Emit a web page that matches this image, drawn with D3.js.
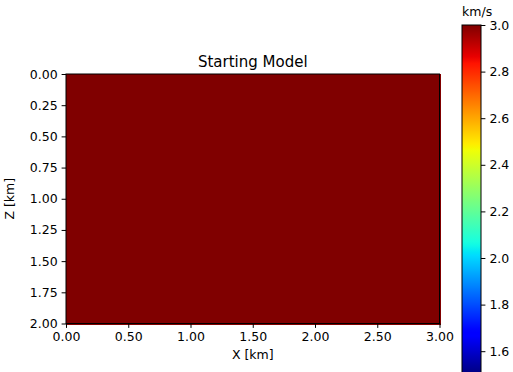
<!DOCTYPE html>
<html>
<head>
<meta charset="utf-8">
<script src="https://cdn.jsdelivr.net/npm/d3@7"></script>
<style>
  body { margin: 0; background: #fff; }
  svg text { font-family: "DejaVu Sans", sans-serif; fill: #000; }
  .axis path, .axis line { stroke: #000; stroke-width: 1; }
  .axis text { font-size: 12.5px; }
</style>
</head>
<body>
<svg class="chart"></svg>
<script>
// velocity model (km/s), rows = depth, cols = distance
var velocity = [
  [3.0, 3.0, 3.0, 3.0, 3.0, 3.0],
  [3.0, 3.0, 3.0, 3.0, 3.0, 3.0],
  [3.0, 3.0, 3.0, 3.0, 3.0, 3.0],
  [3.0, 3.0, 3.0, 3.0, 3.0, 3.0]
];
var xExtent = [0, 3];
var zExtent = [0, 2];
var xTicks = [0, 0.5, 1.0, 1.5, 2.0, 2.5, 3.0];
var zTicks = [0, 0.25, 0.5, 0.75, 1.0, 1.25, 1.5, 1.75, 2.0];
var cbarDomain = [1.5, 3.0];
var cbarTicks = [1.6, 1.8, 2.0, 2.2, 2.4, 2.6, 2.8, 3.0];

var W = 513, H = 372;
var plot = { left: 66, top: 74, right: 439.5, bottom: 323.5 };
var cbar = { left: 462, right: 481, top: 25 };

var svg = d3.select(".chart")
  .attr("width", W)
  .attr("height", H);

var x = d3.scaleLinear().domain(xExtent).range([plot.left, plot.right]);
var z = d3.scaleLinear().domain(zExtent).range([plot.top, plot.bottom]);

// jet colormap (matplotlib segment data)
function jet(t) {
  function seg(pts) {
    for (var i = 1; i < pts.length; i++) {
      if (t <= pts[i][0]) {
        var a = pts[i - 1], b = pts[i];
        return a[1] + (b[1] - a[1]) * (t - a[0]) / (b[0] - a[0]);
      }
    }
    return pts[pts.length - 1][1];
  }
  var r = seg([[0, 0], [0.35, 0], [0.66, 1], [0.89, 1], [1, 0.5]]);
  var g = seg([[0, 0], [0.125, 0], [0.375, 1], [0.64, 1], [0.91, 0], [1, 0]]);
  var b = seg([[0, 0.5], [0.11, 1], [0.34, 1], [0.65, 0], [1, 0]]);
  return d3.rgb(r * 255, g * 255, b * 255).toString();
}
var color = d3.scaleLinear().domain(cbarDomain).range([0, 1]).clamp(true);

// model image
var nz = velocity.length, nx = velocity[0].length;
var dx = (xExtent[1] - xExtent[0]) / nx, dz = (zExtent[1] - zExtent[0]) / nz;
var cells = svg.append("g").attr("shape-rendering", "crispEdges");
velocity.forEach(function(row, i) {
  cells.selectAll(null)
    .data(row)
    .enter().append("rect")
      .attr("x", function(d, j) { return x(j * dx); })
      .attr("y", z(i * dz))
      .attr("width", x(dx) - x(0) + 1)
      .attr("height", z(dz) - z(0) + 1)
      .attr("fill", function(d) { return jet(color(d)); });
});

// spines
svg.append("rect")
  .attr("x", plot.left).attr("y", plot.top)
  .attr("width", plot.right - plot.left).attr("height", plot.bottom - plot.top)
  .attr("fill", "none").attr("stroke", "#000").attr("stroke-width", 1);

var xAxis = d3.axisBottom(x).tickValues(xTicks).tickSize(4.4).tickPadding(4)
  .tickFormat(d3.format(".2f"));
var zAxis = d3.axisLeft(z).tickValues(zTicks).tickSize(4.4).tickPadding(4)
  .tickFormat(d3.format(".2f"));

svg.append("g")
  .attr("class", "x axis")
  .attr("transform", "translate(0," + plot.bottom + ")")
  .call(xAxis)
  .call(function(g) { g.select(".domain").remove(); });
svg.append("g")
  .attr("class", "y axis")
  .attr("transform", "translate(" + plot.left + ",0)")
  .call(zAxis)
  .call(function(g) { g.select(".domain").remove(); });

svg.append("text")
  .attr("x", (plot.left + plot.right) / 2)
  .attr("y", 67)
  .attr("text-anchor", "middle")
  .style("font-size", "15px")
  .text("Starting Model");
svg.append("text")
  .attr("x", (plot.left + plot.right) / 2)
  .attr("y", 359)
  .attr("text-anchor", "middle")
  .style("font-size", "12.5px")
  .text("X [km]");
svg.append("text")
  .attr("transform", "translate(14," + ((plot.top + plot.bottom) / 2) + ") rotate(-90)")
  .attr("text-anchor", "middle")
  .style("font-size", "12.5px")
  .text("Z [km]");

// colorbar
var c = d3.scaleLinear().domain(cbarDomain).range([cbar.top + 349.5, cbar.top]);
var defs = svg.append("defs");
var grad = defs.append("linearGradient")
  .attr("id", "jet")
  .attr("x1", 0).attr("y1", 1).attr("x2", 0).attr("y2", 0);
d3.range(0, 1.0001, 0.01).forEach(function(t) {
  grad.append("stop").attr("offset", t).attr("stop-color", jet(t));
});
svg.append("rect")
  .attr("x", cbar.left).attr("y", c(cbarDomain[1]))
  .attr("width", cbar.right - cbar.left)
  .attr("height", c(cbarDomain[0]) - c(cbarDomain[1]))
  .attr("fill", "url(#jet)")
  .attr("stroke", "#000").attr("stroke-width", 1);

svg.append("g")
  .attr("class", "c axis")
  .attr("transform", "translate(" + cbar.right + ",0)")
  .call(d3.axisRight(c).tickValues(cbarTicks).tickSize(4.4).tickPadding(4)
    .tickFormat(d3.format(".1f")))
  .call(function(g) { g.select(".domain").remove(); });

svg.append("text")
  .attr("x", cbar.left)
  .attr("y", 16)
  .style("font-size", "12.5px")
  .text("km/s");
</script>
</body>
</html>
